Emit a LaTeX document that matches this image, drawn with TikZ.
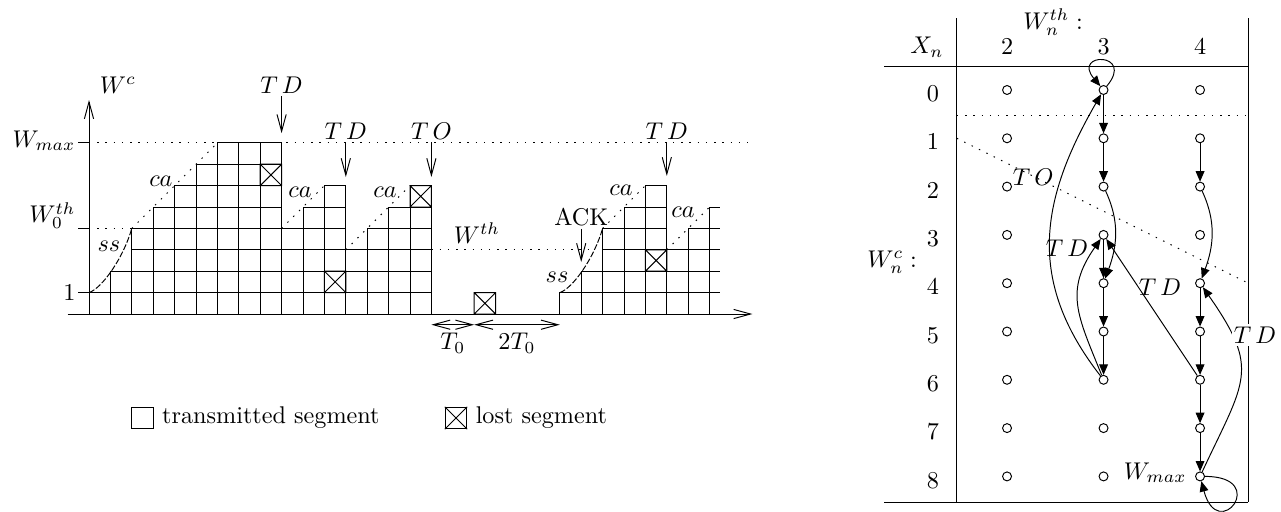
\documentclass[tikz,border=0pt]{standalone}
\usepackage{amsmath,amssymb}
\usetikzlibrary{positioning,arrows.meta,calc}

\tikzset{
  barb/.style={-{Straight Barb[length=7pt,width=3.8pt]}},
  dbarb/.style={{Straight Barb[length=7pt,width=3.8pt]}-{Straight Barb[length=7pt,width=3.8pt]}},
  dotline/.style={dash pattern=on 0.6pt off 2.8pt},
  ssline/.style={dash pattern=on 2.5pt off 0.8pt},
  lbl/.style={inner sep=1pt},
  state/.style={draw,circle,inner sep=0pt,minimum size=3.7pt},
  tr/.style={-{Triangle[length=4.3pt,width=3.6pt]}}
}

% one lost segment: box with a cross
\newcommand{\lostseg}[2]{\draw (#1,#2) rectangle ++(1,1) (#1,#2) -- ++(1,1) ++(0,-1) -- ++(-1,1);}

\begin{document}
\begin{tikzpicture}
  \useasboundingbox (0,0) rectangle (18.61,-7.438);

  % window evolution
  \begin{scope}[shift={(1.293,-4.562)},x=0.3109cm,y=0.3109cm]
    % transmitted segments: column/height
    \foreach \k/\h in {0/1,1/2,2/4,3/5,4/6,5/7,6/8,7/8,8/8,9/4,10/5,11/6,12/3,13/4,14/5,15/6,
                       22/1,23/2,24/4,25/5,26/6,27/3,28/4}
      \foreach \j in {1,...,\h}
        \draw (\k,\j-1) rectangle ++(1,1);
    \draw (29,0) -- (29,5) -- (29.5,5);
    \foreach \j in {1,...,4}
      \draw (29,\j) -- (29.5,\j);
    % lost segments
    \lostseg{8}{6} \lostseg{11}{1} \lostseg{15}{5} \lostseg{18}{0} \lostseg{26}{2}

    % axes
    \draw[barb] (-1,0) -- (31,0);
    \draw[barb] (0,0) -- (0,10);
    \node[lbl] (wc) at (1.35,10.7) {$W^c$};
    \draw (-0.5,1) -- (0,1);
    \draw (-0.5,4) -- (0,4);
    \draw (-0.5,8) -- (0,8);
    \node[lbl,anchor=east] (lone) at (-0.5,1) {$1$};
    \node[lbl,anchor=east] (lw0) at (-0.5,4.6) {$W_0^{th}$};
    \node[lbl,anchor=east] (lwmax) at (-0.5,8.1) {$W_{max}$};

    % thresholds
    \draw[dotline] (0,8) -- (31,8);
    \draw[dotline] (0,4) -- (2,4);
    \draw[dotline] (16,3) -- (23.35,3);
    \node (lwth) at (18.13,3.79) {$W^{th}$};

    % slow start and congestion avoidance
    \draw[ssline] (0,1) .. controls (0.6,1.2) and (1.6,2.6) .. (2,4);
    \draw[ssline] (22,1) .. controls (22.6,1.2) and (23.6,2.6) .. (24,4);
    \node[lbl] (lss1) at (0.93,3.18) {$ss$};
    \node[lbl] (lss2) at (21.87,1.73) {$ss$};
    \foreach \xa/\ya/\xb/\yb in {2/4/6/8,9/4/11/6,12/3/15/6,24/4/26/6,27/3/29/5}
      \draw[dotline] (\xa,\ya) -- (\xb,\yb);
    \foreach \x/\y [count=\i] in {3.36/6.21,9.86/5.70,13.83/5.70,24.86/5.79,27.76/4.77}
      \node[lbl] (lca\i) at (\x,\y) {$ca$};

    % events
    \coordinate (td1tip) at (9,8.45);
    \coordinate (td2tip) at (12,6.4);
    \coordinate (totip) at (16,6.4);
    \coordinate (td3tip) at (27,6.45);
    \coordinate (acktip) at (23,2.43);
    \node[lbl] (ltd1) at (9,10.7) {$T\,D$};
    \node[lbl] (ltd2) at (12,8.55) {$T\,D$};
    \node[lbl] (lto) at (16,8.55) {$T\,O$};
    \node[lbl] (ltd3) at (27,8.55) {$T\,D$};
    \node[lbl] (lack) at (23,4.53) {ACK};
    \draw[barb] (ltd1) -- (td1tip);
    \draw[barb] (ltd2) -- (td2tip);
    \draw[barb] (lto) -- (totip);
    \draw[barb] (ltd3) -- (td3tip);
    \draw[barb] (lack) -- (acktip);

    % timeouts
    \coordinate (ta) at (16,-0.5);
    \coordinate (tb) at (18,-0.5);
    \coordinate (tc) at (22,-0.5);
    \draw[dbarb] (ta) -- node[below] (lt0) {$T_0$} (tb);
    \draw[dbarb] (tb) -- node[below] (l2t0) {$2T_0$} (tc);

    % legend
    \node[draw,inner sep=0pt,minimum size=0.3109cm] (legtr) at (2.5,-4.86) {};
    \node[right=0pt of legtr] (legtrtxt) {transmitted segment};
    \node[draw,inner sep=0pt,minimum size=0.3109cm] (leglost) at (17.15,-4.86) {};
    \draw (leglost.north west) -- (leglost.south east)
          (leglost.north east) -- (leglost.south west);
    \node[right=0pt of leglost] (leglosttxt) {lost segment};
  \end{scope}

  % Markov chain
  \begin{scope}[shift={(14.630,-1.3075)},x=1.402cm,y=-0.7017cm]
    % table frame
    \draw (-0.52,-1.49) -- (-0.52,8.53);
    \draw (2.5,-1.49) -- (2.5,8.53);
    \draw (-1.275,-0.48) -- (2.5,-0.48);
    \draw (-1.275,8.53) -- (2.5,8.53);
    \draw[dotline] (-0.52,0.52) -- (2.5,0.52);
    \draw[dotline] (-0.52,1) -- (2.5,4);

    % headers
    \node (xn) at (-0.83,-0.89) {$X_n$};
    \node (wth) at (0.477,-1.41) {$W_n^{th}:$};
    \node (wcn) at (-1.19,3.56) {$W_n^c:$};
    \foreach \c in {2,3,4}
      \node (h\c) at (\c-2,-0.89) {$\c$};
    \foreach \r in {0,...,8}
      \node (v\r) at (-0.767,\r+0.08) {$\r$};

    % states
    \foreach \c in {2,3,4}
      \foreach \r in {0,...,8}
        \node[state] (n\c\r) at (\c-2,\r) {};

    % transitions
    \foreach \a/\b in {30/31,31/32,33/34,34/35,35/36,41/42,44/45,45/46,46/47,47/48}
      \draw[tr] (n\a) -- (n\b);
    \draw[tr] (n32) to[out=-65,in=70] (n34);
    \draw[tr] (n42) to[out=-65,in=70] (n44);
    \draw[tr] (n30) to[out=50,in=130,min distance=6.5mm] (n30);
    \draw[tr] (n48) to[out=0,in=-75,min distance=9.5mm] (n48);
    \draw[tr] (n36) to[out=128,in=240,looseness=1.1] (n30);
    \draw[tr] (n36) to[out=112,in=235,looseness=1.2] (n33);
    \draw[tr] (n46) -- (n33);
    \draw[tr] (n48) to[out=65,in=-55,looseness=1.4] (n44);

    \node[lbl] (lto2) at (0.27,1.8) {$T\,O$};
    \node[lbl] (ltda) at (0.62,3.27) {$T\,D$};
    \node[lbl] (ltdb) at (1.585,4.08) {$T\,D$};
    \node[lbl,fill=white] (ltdc) at (2.57,5.07) {$T\,D$};
    \node[left=0pt of n48,yshift=1.5pt] (lwm) {$W_{max}$};
  \end{scope}
\end{tikzpicture}
\end{document}
